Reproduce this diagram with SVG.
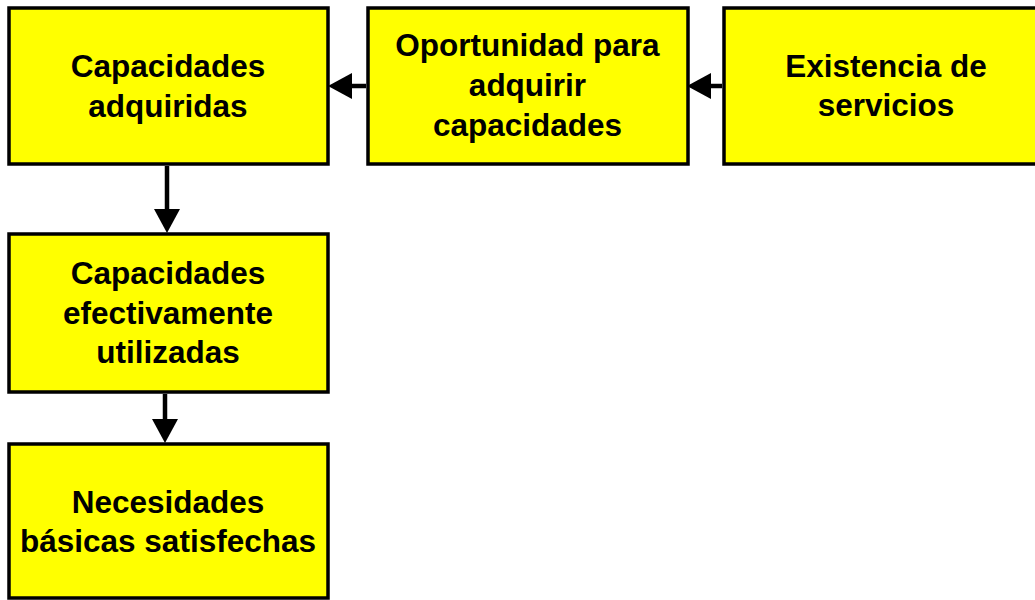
<svg xmlns="http://www.w3.org/2000/svg" width="1035" height="600" viewBox="0 0 1035 600">
<style>
.box{fill:#ffff00;stroke:#000;stroke-width:3.5}
.t{font-family:"Liberation Sans",Arial,sans-serif;font-weight:bold;font-size:31.5px;fill:#000;text-anchor:middle}
.c{stroke:#000;stroke-width:4.5;fill:none;marker-end:url(#ah)}
</style>
<defs>
<marker id="ah" markerWidth="24" markerHeight="26" viewBox="0 0 24 26" refX="4" refY="13" orient="auto" markerUnits="userSpaceOnUse">
<path d="M0,0 L24,13 L0,26 Z" fill="#000"/>
</marker>
</defs>
<rect width="1035" height="600" fill="#fff"/>
<g id="n1"><rect class="box" x="9" y="8" width="319" height="156"/>
<text class="t" x="168" y="77">Capacidades</text><text class="t" x="168" y="116.5">adquiridas</text></g>
<g id="n2"><rect class="box" x="368" y="8" width="320" height="156"/>
<text class="t" x="527.5" y="56">Oportunidad para</text><text class="t" x="527.5" y="96">adquirir</text><text class="t" x="527.5" y="136">capacidades</text></g>
<g id="n3"><rect class="box" x="724" y="8" width="325" height="156"/>
<text class="t" x="886" y="77">Existencia de</text><text class="t" x="886" y="116">servicios</text></g>
<g id="n4"><rect class="box" x="9" y="234" width="319" height="158"/>
<text class="t" x="168" y="284">Capacidades</text><text class="t" x="168" y="323.5">efectivamente</text><text class="t" x="168" y="363">utilizadas</text></g>
<g id="n5"><rect class="box" x="9" y="444" width="319" height="154"/>
<text class="t" x="168" y="513">Necesidades</text><text class="t" x="168" y="552">básicas satisfechas</text></g>
<g id="connectors">
<line class="c" x1="366" y1="86" x2="348" y2="86"/>
<line class="c" x1="722" y1="86" x2="707" y2="86"/>
<line class="c" x1="167" y1="166" x2="167" y2="213"/>
<line class="c" x1="165" y1="394" x2="165" y2="423"/>
</g>
</svg>
